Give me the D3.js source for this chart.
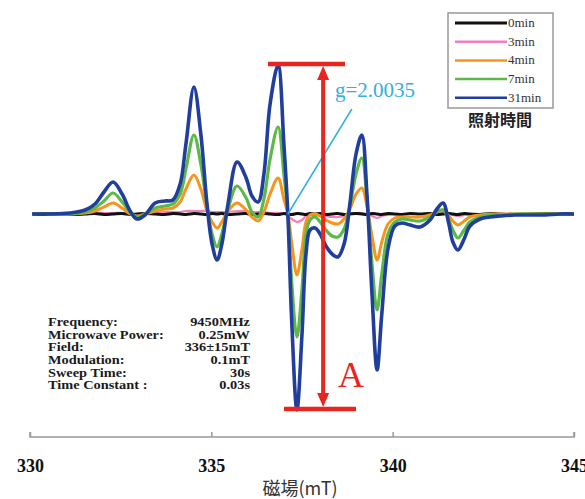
<!DOCTYPE html>
<html>
<head>
<meta charset="utf-8">
<script src="https://cdn.jsdelivr.net/npm/d3@7"></script>
<style>
  body { margin: 0; background: #fff; }
  svg { display: block; }
</style>
</head>
<body>
<div id="chart"></div>
<script>
// magnetic field (mT) sample points
var field = [330.06, 330.55, 331.10, 331.52, 331.79, 332.04, 332.29, 332.54, 332.76, 332.95,
  333.17, 333.45, 333.72, 333.94, 334.14, 334.30, 334.52, 334.71, 334.88, 335.02,
  335.16, 335.29, 335.46, 335.71, 335.96, 336.12, 336.29, 336.45, 336.62, 336.84,
  337.00, 337.11, 337.22, 337.36, 337.50, 337.61, 337.72, 337.86, 338.00, 338.16,
  338.33, 338.49, 338.66, 338.82, 338.99, 339.15, 339.29, 339.43, 339.57, 339.70,
  339.87, 340.06, 340.26, 340.48, 340.75, 341.03, 341.22, 341.39, 341.55, 341.66,
  341.80, 341.97, 342.13, 342.41, 342.68, 342.96, 343.37, 343.79, 344.20, 344.61, 345.00];

// ESR signal (arb. units) for each irradiation time
var min31 = [0, 0, 1, 4, 10, 22, 32, 20, 3, -5,
  -1, 11, 13, 14, 30, 70, 127, 80, 10, -30,
  -46, -30, 10, 52, 36, 18, 12, 40, 110, 149,
  70, 0, -110, -196, -120, -40, -16, -14, -20, -32,
  -40, -43, -30, 10, 60, 79, 20, -80, -156, -100,
  -35, -12, -9, -11, -13, -6, 5, 11, -10, -28,
  -36, -25, -12, -5, -3, -2, -1, -1, -1, 0, 0];
var min7 = [0, 0, 0, 2, 6, 13, 21, 12, 2, -3,
  0, 6, 8, 10, 20, 45, 79, 50, 8, -20,
  -33, -20, 5, 28, 16, 2, -3, 15, 55, 87,
  40, 0, -70, -123, -75, -20, -6, -3, -8, -16,
  -22, -23, -15, 8, 40, 56, 15, -50, -96, -60,
  -20, -8, -5, -6, -7, -3, 2, 4, -6, -16,
  -24, -16, -8, -3, -1, -1, 0, 0, 0, 0, 0];
var min4 = [0, 0, 0, 1, 3, 7, 11, 6, 0, -2,
  0, 3, 5, 6, 12, 25, 39, 25, 3, -8,
  -14, -8, 3, 11, 4, -3, -7, 2, 20, 36,
  15, 0, -30, -61, -35, -8, -1, 0, -2, -6,
  -9, -10, -5, 5, 20, 26, 8, -22, -46, -28,
  -10, -4, -3, -3, -3, -1, 2, 4, -2, -7,
  -11, -7, -3, -1, 0, 0, 0, 0, 0, 0, 0];
var min3 = [0, 0, 0, 0, 1, 1, 1, 1, 0, 0,
  0, 1, 2, 2, 2, 3, 3, 3, 3, 2,
  2, 2, 2, 3, 3, 2, 2, 2, 1, 1,
  0, -2, -5, -8, -6, -2, -1, 0, -1, -2,
  -3, -3, -2, 0, 1, 1, 0, -2, -4, -2,
  -1, 0, 0, 0, 0, 0, 1, 1, 0, -1,
  -2, -1, 0, 0, 0, 0, 0, 0, 0, 0, 0];
var min0 = [0, 0.5, -0.5, 0, 0.5, -0.5, 0, 0.5, -0.5, 0,
  0.5, 0, -0.5, 0.5, 0, -0.5, 0.5, 0, -0.5, 0.5,
  0, 0.5, -0.5, 0, 0.5, -0.5, 0, 0.5, 0, -0.5,
  0.5, 0, -0.5, 0.5, 0, -0.5, 0.5, 0, 0.5, -0.5,
  0, 0.5, -0.5, 0, 0.5, 0, -0.5, 0.5, 0, -0.5,
  0.5, 0, -0.5, 0.5, 0, 0.5, -0.5, 0, 0.5, 0,
  -0.5, 0.5, 0, -0.5, 0.5, 0, -0.5, 0, 0.5, 0, 0];

var seriesNames = ["0min", "3min", "4min", "7min", "31min"];
var seriesColors = ["#111111", "#f27fc0", "#f7941d", "#5cb947", "#203e9c"];
var seriesData = [min0, min3, min4, min7, min31];

var xTicks = [330, 335, 340, 345];

var paramLabels = ["Frequency:", "Microwave Power:", "Field:", "Modulation:", "Sweep Time:", "Time Constant :"];
var paramValues = ["9450MHz", "0.25mW", "336\u00b115mT", "0.1mT", "30s", "0.03s"];

// g-value marker and peak-to-peak amplitude A
var gField = 337.11;
var ampTop = 149, ampBottom = -196, ampField = 338.0;

var svgWidth = 585, svgHeight = 499;

var svg = d3.select("#chart").append("svg")
  .attr("width", svgWidth)
  .attr("height", svgHeight);

var x = d3.scaleLinear().domain([330, 345]).range([30, 574]);
var y = d3.scaleLinear().domain([-200, 200]).range([414, 14]);

// x axis, ticks pointing up
var axis = svg.append("g")
  .attr("transform", "translate(0,437)")
  .call(d3.axisBottom(x).tickValues(xTicks).tickSize(-5).tickPadding(22).tickFormat(d3.format("d")));
axis.select(".domain").attr("stroke", "#999").attr("stroke-width", 1.5)
  .attr("d", "M30,-5V0H574V-5");
axis.selectAll(".tick line").attr("stroke", "#999").attr("stroke-width", 1.5);
axis.selectAll(".tick text")
  .attr("fill", "#111")
  .style("font-family", "'Liberation Serif', serif")
  .style("font-weight", "bold")
  .style("font-size", "18px");

svg.append("text")
  .attr("x", 300).attr("y", 495)
  .attr("text-anchor", "middle")
  .attr("fill", "#333")
  .style("font-family", "'Noto Sans CJK JP', 'Noto Sans', sans-serif")
  .style("font-size", "18px")
  .text("磁場(mT)");

// spectra
var line = d3.line()
  .x(function(d, i) { return x(field[i]); })
  .y(function(d) { return y(d); })
  .curve(d3.curveCatmullRom.alpha(0.5));

var widths = [3, 2.2, 3, 3.2, 3.6];
var order = [1, 0, 2, 3, 4];
order.forEach(function(k) {
  svg.append("path")
    .datum(seriesData[k])
    .attr("fill", "none")
    .attr("stroke", seriesColors[k])
    .attr("stroke-width", widths[k])
    .attr("stroke-linejoin", "round")
    .attr("d", line);
});

// g marker
var gx = x(gField), gy = y(0);
svg.append("line")
  .attr("x1", gx).attr("y1", gy)
  .attr("x2", gx + 64).attr("y2", gy - 105)
  .attr("stroke", "#34aee3").attr("stroke-width", 1.5);
svg.append("text")
  .attr("x", 335).attr("y", 97)
  .attr("fill", "#34aee3")
  .style("font-family", "'Liberation Serif', serif")
  .style("font-size", "21px")
  .text("g=2.0035");

// amplitude A
var red = "#e8261f";
var ax = x(ampField) + 3;
svg.append("line")
  .attr("x1", 268).attr("x2", 345)
  .attr("y1", y(ampTop) - 1).attr("y2", y(ampTop) - 1)
  .attr("stroke", red).attr("stroke-width", 4.5);
svg.append("line")
  .attr("x1", 284).attr("x2", 356)
  .attr("y1", y(ampBottom) - 1).attr("y2", y(ampBottom) - 1)
  .attr("stroke", red).attr("stroke-width", 4.5);
svg.append("line")
  .attr("x1", ax).attr("x2", ax)
  .attr("y1", y(ampTop) + 8).attr("y2", y(ampBottom) - 10)
  .attr("stroke", red).attr("stroke-width", 4);
svg.append("path")
  .attr("d", "M" + ax + "," + (y(ampTop) + 1) + "l-6,14h12z")
  .attr("fill", red);
svg.append("path")
  .attr("d", "M" + ax + "," + (y(ampBottom) - 3) + "l-6,-14h12z")
  .attr("fill", red);
svg.append("text")
  .attr("x", 338).attr("y", 387)
  .attr("fill", red)
  .style("font-family", "'Liberation Serif', serif")
  .style("font-size", "36px")
  .text("A");

// measurement conditions (text is a bit stretched horizontally in the original)
var sx = 1.25;
var params = svg.append("g")
  .attr("transform", "scale(" + sx + ",1)")
  .style("font-family", "'Liberation Serif', serif")
  .style("font-weight", "bold")
  .style("font-size", "11.5px")
  .attr("fill", "#1a1a1a");
paramLabels.forEach(function(t, i) {
  params.append("text").attr("x", 48 / sx).attr("y", 326 + i * 12.7).text(t);
  params.append("text").attr("x", 250 / sx).attr("y", 326 + i * 12.7)
    .attr("text-anchor", "end").text(paramValues[i]);
});

// legend
var legend = svg.append("g");
legend.append("rect")
  .attr("x", 448).attr("y", 13).attr("width", 105).attr("height", 95)
  .attr("fill", "#fff").attr("stroke", "#999").attr("stroke-width", 1.5);
seriesNames.forEach(function(name, i) {
  var ly = 23 + i * 18.7;
  legend.append("line")
    .attr("x1", 455).attr("x2", 507).attr("y1", ly).attr("y2", ly)
    .attr("stroke", seriesColors[i]).attr("stroke-width", i === 0 ? 3 : 2.5);
  legend.append("text")
    .attr("x", 508).attr("y", ly + 4)
    .attr("fill", "#333")
    .style("font-family", "'Liberation Serif', serif")
    .style("font-size", "13px")
    .text(name);
});
legend.append("text")
  .attr("x", 500).attr("y", 126)
  .attr("text-anchor", "middle")
  .attr("fill", "#222")
  .style("font-family", "'Noto Sans CJK JP', sans-serif")
  .style("font-weight", "bold")
  .style("font-size", "16px")
  .text("照射時間");
</script>
</body>
</html>
